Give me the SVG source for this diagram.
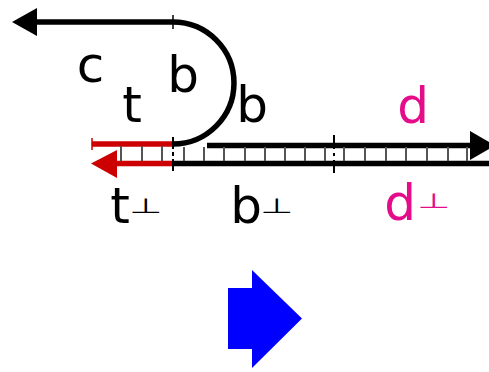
<svg xmlns="http://www.w3.org/2000/svg" width="489" height="372" viewBox="0 0 489 372">
<style>
.s{fill:none;stroke:#000;stroke-width:5.5}
.r{fill:none;stroke:#cc0000;stroke-width:5.5}
.rung{stroke:#555;stroke-width:2}
.lbl{font-family:"DejaVu Sans",sans-serif;font-size:50px;text-anchor:middle}
.perp{font-family:"DejaVu Sans",sans-serif;font-size:38px}
.k{fill:#000}
.m{fill:#e40c88}
</style>
<rect width="489" height="372" fill="#fff"/>
<g id="connectors">
  <path class="s" d="M35 22 H173 A61 61 0 0 1 173 144"/>
  <polygon points="12,22 37,8 37,36" fill="#000"/>
  <line x1="173" y1="15" x2="173" y2="29" stroke="#000" stroke-width="1.5"/>
  <line class="r" x1="92" y1="144" x2="173" y2="144"/>
  <line x1="92" y1="138" x2="92" y2="150" stroke="#cc0000" stroke-width="1.5"/>
  <line class="r" x1="112" y1="163.5" x2="173" y2="163.5"/>
  <polygon points="91,163.5 117,150 117,178" fill="#cc0000"/>
  <g>
    <line class="rung" x1="121" y1="146" x2="121" y2="161"/>
    <line class="rung" x1="142" y1="146" x2="142" y2="161"/>
    <line class="rung" x1="162" y1="146" x2="162" y2="161"/>
  </g>
  <line class="s" x1="207" y1="145.5" x2="472" y2="145.5"/>
  <polygon points="495,145.5 470,131 470,160" fill="#000"/>
  <line class="s" x1="173" y1="163.5" x2="489" y2="163.5"/>
  <g>
    <line class="rung" x1="184" y1="147" x2="184" y2="161"/>
    <line class="rung" x1="204" y1="147" x2="204" y2="161"/>
    <line class="rung" x1="224" y1="147" x2="224" y2="161"/>
    <line class="rung" x1="245" y1="147" x2="245" y2="161"/>
    <line class="rung" x1="265" y1="147" x2="265" y2="161"/>
    <line class="rung" x1="285" y1="147" x2="285" y2="161"/>
    <line class="rung" x1="305" y1="147" x2="305" y2="161"/>
    <line class="rung" x1="325" y1="147" x2="325" y2="161"/>
    <line class="rung" x1="344" y1="147" x2="344" y2="161"/>
    <line class="rung" x1="365" y1="147" x2="365" y2="161"/>
    <line class="rung" x1="386" y1="147" x2="386" y2="161"/>
    <line class="rung" x1="406" y1="147" x2="406" y2="161"/>
    <line class="rung" x1="427" y1="147" x2="427" y2="161"/>
    <line class="rung" x1="448" y1="147" x2="448" y2="161"/>
    <line class="rung" x1="467" y1="147" x2="467" y2="161"/>
  </g>
  <line x1="173" y1="137" x2="173" y2="171" stroke="#000" stroke-width="2" stroke-dasharray="12 3 4 3"/>
  <line x1="334" y1="135" x2="334" y2="173" stroke="#000" stroke-width="2" stroke-dasharray="14 4 3 4"/>
</g>
<g id="labels">
  <text class="lbl k" x="90.5" y="82">c</text>
  <text class="lbl k" x="132" y="122">t</text>
  <text class="lbl k" x="183" y="92">b</text>
  <text class="lbl k" x="252" y="122">b</text>
  <text class="lbl m" x="413" y="123">d</text>
  <text class="lbl k" x="120" y="223">t</text>
  <text class="perp k" transform="translate(129,213) scale(1,0.55)">⊥</text>
  <text class="lbl k" x="246" y="223">b</text>
  <text class="perp k" transform="translate(260,213) scale(1,0.55)">⊥</text>
  <text class="lbl m" x="400" y="220">d</text>
  <text class="perp m" transform="translate(417,208) scale(1,0.55)">⊥</text>
</g>
<g id="bigarrow">
  <polygon points="228,288 252,288 252,270 302,318.5 252,368 252,349 228,349" fill="#0000ff"/>
</g>
</svg>
